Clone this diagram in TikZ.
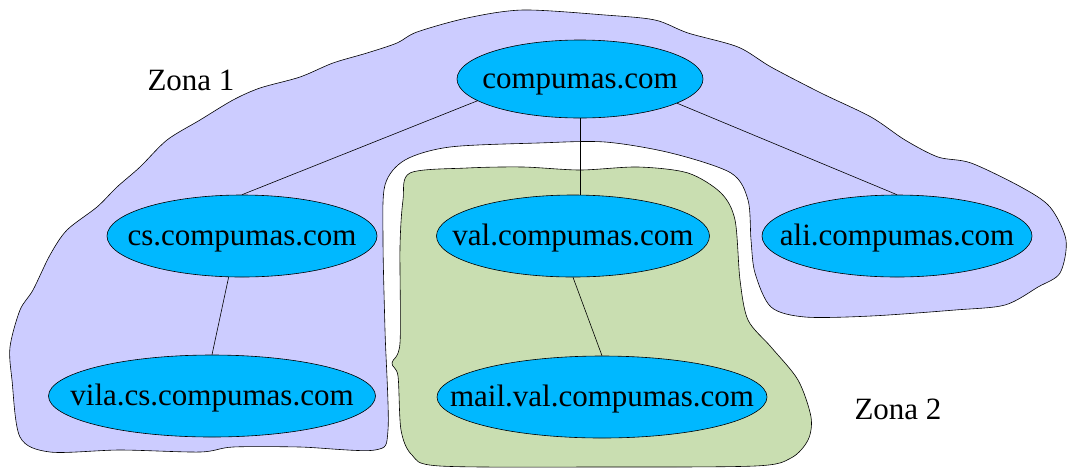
\documentclass[tikz,border=0pt]{standalone}
\usepackage{fontspec}
\setmainfont{Liberation Serif}
\usetikzlibrary{shapes.geometric}
\definecolor{zoneA}{HTML}{CCCCFF}
\definecolor{zoneB}{HTML}{C9DEB1}
\definecolor{nodefill}{HTML}{00B8FF}
\newcommand{\zlabel}[1]{\raisebox{-9pt}[0pt][0pt]{\makebox[0pt]{#1}}}
\begin{document}
\begin{tikzpicture}[x=1pt,y=-1pt,
  font=\rmfamily\fontsize{31}{37}\selectfont,
  dom/.style={ellipse, draw=black, line width=0.6pt, fill=nodefill, inner sep=0pt, minimum height=82pt},
  link/.style={draw=black, line width=0.6pt},
  zone/.style={draw=black, line width=0.6pt},
  lbl/.style={inner sep=0pt}]
\useasboundingbox (0,0) rectangle (1078,467);
% Zona 1
\draw[zone, fill=zoneA] plot[smooth cycle, tension=0.5] coordinates {
 (397,43) (417,32) (467,18) (523,10) (605,15) (655,20) (688,33) (738,47) (771,67)
 (821,93) (871,117) (905,140) (938,157) (971,163) (1021,187) (1050,207) (1066,240)
 (1060,273) (1038,287) (1005,305) (955,310) (871,316) (805,317) (771,307) (755,273)
 (751,240) (748,200) (731,173) (671,153) (605,142) (538,143) (450,147) (405,160)
 (385,185) (383,240) (385,330) (388,430) (375,450) (300,447) (233,447) (200,452)
 (120,450) (50,452) (20,437) (12,380) (10,347) (20,310) (33,290) (50,255) (67,230)
 (97,207) (117,187) (140,167) (167,140) (200,120) (233,100) (260,88) (300,77)
 (333,63) (367,53)};
% Zona 2
\draw[zone, fill=zoneB] plot[smooth cycle, tension=0.5] coordinates {
 (410,173) (467,168) (523,167) (580,170) (638,167) (688,173) (721,193) (735,220)
 (740,280) (748,320) (771,347) (798,380) (811,417) (808,440) (791,458) (755,466)
 (600,467) (440,466) (412,455) (401,430) (398,376) (392,363) (400,343) (400,247)
 (403,200)};
% nodes
\node[dom, minimum width=246pt, minimum height=78pt] (cp) at (580,79) {\zlabel{compumas.com}};
\node[dom, minimum width=270pt] (cs) at (242,236) {\zlabel{cs.compumas.com}};
\node[dom, minimum width=273pt] (val) at (573,236) {\zlabel{val.compumas.com}};
\node[dom, minimum width=270pt] (ali) at (897,236) {\zlabel{ali.compumas.com}};
\node[dom, minimum width=327pt] (vila) at (212,396) {\zlabel{vila.cs.compumas.com}};
\node[dom, minimum width=330pt] (mail) at (602,397) {\zlabel{mail.val.compumas.com}};
% links
\draw[link] (cp.192) -- (cs.north);
\draw[link] (cp.south) -- (cp.south |- val.north);
\draw[link] (cp.-14) -- (ali.north);
\draw[link] (cs.252) -- (vila.north);
\draw[link] (val.south) -- (mail.north);
% labels
\node[lbl] (z1) at (191,80) {Zona 1};
\node[lbl] (z2) at (898,409) {Zona 2};
\end{tikzpicture}
\end{document}
